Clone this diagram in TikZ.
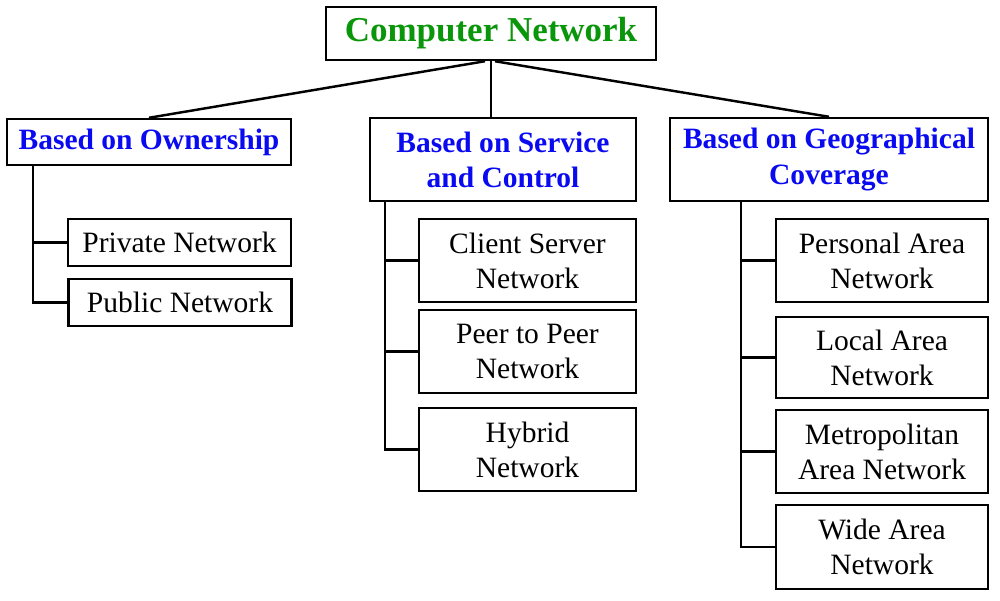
\documentclass[tikz,border=0pt]{standalone}
\usepackage{fontspec}
\setmainfont{Liberation Serif}
\definecolor{rootgreen}{RGB}{10,150,10}
\definecolor{catblue}{RGB}{10,10,240}
\tikzset{
  box/.style={draw, line width=1.4pt, inner sep=0pt, align=center},
  rootbox/.style={box, minimum width=6.6cm, minimum height=1.06cm,
    font=\fontsize{19.9}{23}\selectfont\bfseries, text=rootgreen},
  catbox/.style={box, minimum height=1.66cm,
    font=\fontsize{16.8}{20}\selectfont\bfseries, text=catblue},
  leafbox/.style={box, minimum height=1.66cm,
    font=\fontsize{16.8}{20}\selectfont},
  link/.style={line width=1.4pt}
}
\begin{document}
\begin{tikzpicture}[x=0.02cm, y=-0.02cm]
  \useasboundingbox (0,0) rectangle (1000,600);
  % top
  \node[rootbox] (root) at (491,33.5) {Computer Network};
  % categories
  \node[catbox, minimum width=5.68cm, minimum height=0.92cm] (own) at (149,142) {Based on Ownership};
  \node[catbox, minimum width=5.32cm] (serv) at (503,159.5) {Based on Service\\and Control};
  \node[catbox, minimum width=6.36cm] (geo) at (829,159.5) {Based on Geographical\\Coverage};
  \draw[link] (root.south) ++(-6,0) -- (own.north);
  \draw[link] (root.south) -- (root.south |- serv.north);
  \draw[link] (root.south) ++(4,0) -- (geo.north);
  % ownership
  \node[leafbox, minimum width=4.46cm, minimum height=0.94cm] (priv) at (179.5,242.5) {Private Network};
  \node[leafbox, minimum width=4.46cm, minimum height=0.94cm] (pub) at (180,302.5) {Public Network};
  \coordinate (ownT) at (33,165);
  \draw[link] (ownT) |- (priv.west);
  \draw[link] (ownT) |- (pub.west);
  % service and control
  \node[leafbox, minimum width=4.34cm] (cs) at (527.5,260.5) {Client Server\\Network};
  \node[leafbox, minimum width=4.34cm] (p2p) at (527.5,351.5) {Peer to Peer\\Network};
  \node[leafbox, minimum width=4.34cm] (hyb) at (527.5,449.5) {Hybrid\\Network};
  \coordinate (servT) at (385,201);
  \draw[link] (servT) |- (cs.west);
  \draw[link] (servT) |- (p2p.west);
  \draw[link] (servT) |- (hyb.west);
  % geographical coverage
  \node[leafbox, minimum width=4.24cm] (pan) at (882,260.5) {Personal Area\\Network};
  \node[leafbox, minimum width=4.24cm, minimum height=1.62cm] (lan) at (882,357.5) {Local Area\\Network};
  \node[leafbox, minimum width=4.24cm] (man) at (882,451.5) {Metropolitan\\Area Network};
  \node[leafbox, minimum width=4.24cm, minimum height=1.68cm] (wan) at (882,547) {Wide Area\\Network};
  \coordinate (geoT) at (741,201);
  \draw[link] (geoT) |- (pan.west);
  \draw[link] (geoT) |- (lan.west);
  \draw[link] (geoT) |- (man.west);
  \draw[link] (geoT) |- (wan.west);
\end{tikzpicture}
\end{document}
